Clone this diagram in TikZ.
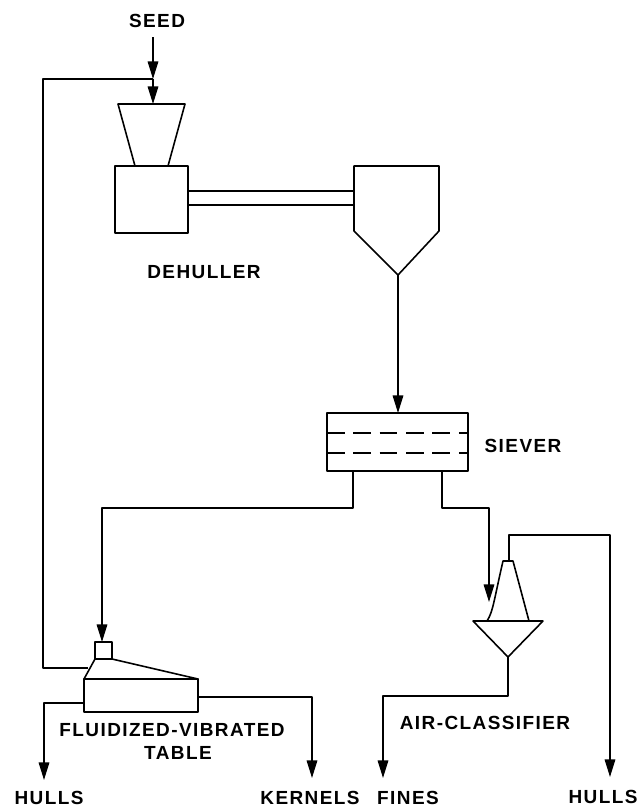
\documentclass[tikz,border=0pt]{standalone}
\usepackage{fontspec}
\setmainfont[LetterSpace=7.5]{Liberation Sans}
\usetikzlibrary{arrows.meta,positioning}
\tikzset{
  line/.style={line width=0.9pt,line join=round},
  flow/.style={line,-{Triangle[length=10pt,width=6pt]}},
  caption/.style={font=\bfseries\fontsize{10.8}{12}\selectfont,inner sep=0pt}
}

\begin{document}
\begin{tikzpicture}[x=0.02cm,y=-0.02cm]
      \useasboundingbox (0,0) rectangle (640,806);
      % equipment
      \draw[line] (118,104) -- (185,104) -- (168,166) -- (135,166) -- cycle;
      \draw[line] (115,166) rectangle (188,233);
      \draw[line] (354,231) -- (354,166) -- (439,166) -- (439,231) -- (398,275) -- cycle;
      \draw[line] (327,413) rectangle (468,471);
      \draw[line,dash pattern=on 10pt off 5pt] (327,433) -- (468,433);
      \draw[line,dash pattern=on 10pt off 5pt] (327,453) -- (468,453);
      \draw[line] (95,659) rectangle (112,642);
      \draw[line] (84,679) -- (95,659) -- (112,659) -- (198,679) -- cycle;
      \draw[line] (84,679) rectangle (198,712);
      \draw[line] (487,621) .. controls (493,612) and (494,600) .. (503,561) -- (513,561) -- (529,621);
      \draw[line] (473,621) -- (543,621) -- (508,657) -- cycle;
      % ports
      \coordinate (seedtop) at (153,37);
      \coordinate (seedhead) at (153,79);
      \coordinate (hopperin) at (153,104);
      \coordinate (recyclein) at (88,668);
      \coordinate (recyclecorner) at (43,668);
      \coordinate (pipeaw) at (188,191);
      \coordinate (pipeae) at (354,191);
      \coordinate (pipebw) at (188,205);
      \coordinate (pipebe) at (354,205);
      \coordinate (cyclonetip) at (398,275);
      \coordinate (sievertop) at (398,413);
      \coordinate (sieverleft) at (353,471);
      \coordinate (leftrun) at (102,508);
      \coordinate (tablein) at (102,642);
      \coordinate (sieverright) at (442,471);
      \coordinate (rightrun) at (489,508);
      \coordinate (classin) at (489,602);
      \coordinate (hullsout) at (84,703);
      \coordinate (hullsend) at (44,780);
      \coordinate (kernelsout) at (198,697);
      \coordinate (kernelsend) at (312,778);
      \coordinate (classtop) at (509,561);
      \coordinate (classtip) at (508,657);
      \coordinate (finesrun) at (383,696);
      \coordinate (finesend) at (383,778);
      \coordinate (hullsrun) at (610,535);
      \coordinate (hullstwoend) at (610,777);
      % connectors
      \draw[flow] (seedtop) -- (seedhead);
      \draw[flow] (seedhead) -- (hopperin);
      \draw[line] (recyclein) -- (recyclecorner) |- (seedhead);
      \draw[line] (pipeaw) -- (pipeae);
      \draw[line] (pipebw) -- (pipebe);
      \draw[flow] (cyclonetip) -- (sievertop);
      \draw[flow] (sieverleft) |- (leftrun) -- (tablein);
      \draw[flow] (sieverright) |- (rightrun) -- (classin);
      \draw[flow] (hullsout) -| (hullsend);
      \draw[flow] (kernelsout) -| (kernelsend);
      \draw[flow] (classtip) |- (finesrun) -- (finesend);
      \draw[flow] (classtop) |- (hullsrun) -- (hullstwoend);
      % labels
      \node[caption] (seed) at (157,21) {SEED};
      \node[caption] (dehuller) at (204,272) {DEHULLER};
      \node[caption] (siever) at (523,446) {SIEVER};
      \node[caption] (classifier) at (485,723) {AIR-CLASSIFIER};
      \node[caption] (table) at (172,730) {FLUIDIZED-VIBRATED};
      \node[caption] (tabletwo) at (178,753) {TABLE};
      \node[caption] (hulls) at (49,798) {HULLS};
      \node[caption] (kernels) at (310,798) {KERNELS};
      \node[caption] (fines) at (408,798) {FINES};
      \node[caption] (hullstwo) at (603,797) {HULLS};
    \end{tikzpicture}
\end{document}
